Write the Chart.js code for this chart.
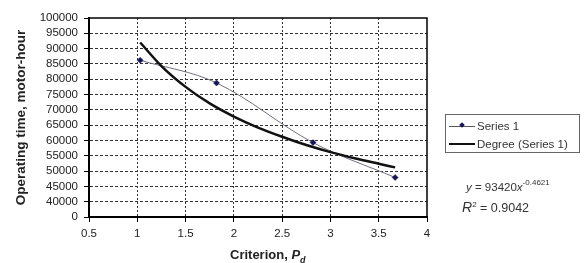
<!DOCTYPE html>
<html>
<head>
<meta charset="utf-8">
<script src="https://cdn.jsdelivr.net/npm/chart.js@4/dist/chart.umd.min.js"></script>
<style>
  html, body { margin: 0; padding: 0; background: #fff; }
  #wrap { position: relative; width: 585px; height: 263px; overflow: hidden; font-family: "Liberation Sans", Arial, sans-serif; }
  #chart { position: absolute; left: 0; top: 0; }
  #legend { position: absolute; left: 445px; top: 114px; width: 135px; height: 39px; border: 1px solid #666; box-sizing: border-box; color: #333; font-size: 11.5px; }
  .row { position: absolute; left: 0; height: 14px; line-height: 14px; }
  .sample { position: absolute; left: 3px; width: 26px; }
  .lbl { position: absolute; left: 31px; white-space: nowrap; }
  #xtitle { position: absolute; left: 230px; top: 247px; font-weight: bold; font-size: 13px; color: #222; white-space: nowrap; }
  #eq1 { position: absolute; left: 466px; top: 178px; font-size: 11.5px; color: #333; white-space: nowrap; }
  #eq2 { position: absolute; left: 462px; top: 199px; font-size: 12.5px; color: #333; white-space: nowrap; }
</style>
</head>
<body>
<div id="wrap">
  <canvas id="chart" width="585" height="263"></canvas>
  <div id="legend">
    <div class="row" style="top:4px">
      <div class="sample" style="top:6.5px;height:1px;background:#555"></div>
      <div class="sample" style="top:4px;left:14px;width:4px;height:4px;background:#14145a;transform:rotate(45deg)"></div>
      <div class="lbl" id="lbl1"></div>
    </div>
    <div class="row" style="top:22px">
      <div class="sample" style="top:6px;height:2px;background:#111"></div>
      <div class="lbl" id="lbl2"></div>
    </div>
  </div>
  <div id="eq1"><i>y</i> = 93420<i>x</i><sup style="font-size:8px;vertical-align:6px">-0.4621</sup></div>
  <div id="eq2"><i style="font-size:14px">R</i><sup style="font-size:8px;vertical-align:5px">2</sup> = 0.9042</div>
  <div id="xtitle">Criterion, <i>P</i><sub style="font-size:9px;font-style:italic">d</sub></div>
</div>
<script>
// ---- data ----
const seriesNames = ['Series 1', 'Degree (Series 1)'];
const seriesX = [1.03, 1.82, 2.82, 3.67];
const seriesY = [86200, 78800, 59300, 47900];
const trendX = [1.03, 1.25, 1.5, 1.75, 2.0, 2.25, 2.5, 2.75, 3.0, 3.25, 3.5, 3.67];
const trendY = [92000, 84300, 77500, 72100, 67800, 64200, 61200, 58500, 56200, 54200, 52400, 51200];
const xTickLabels = ['0.5', '1', '1.5', '2', '2.5', '3', '3.5', '4'];
const yTickLabels = ['0', '40000', '45000', '50000', '55000', '60000', '65000', '70000', '75000', '80000', '85000', '90000', '95000', '100000'];
const yAxisTitle = 'Operating time, motor-hour';

document.getElementById('lbl1').textContent = seriesNames[0];
document.getElementById('lbl2').textContent = seriesNames[1];

const X_MIN = 0.5, X_MAX = 4, Y_MIN = 35000, Y_MAX = 100000;

const frame = {
  id: 'frame',
  afterDraw(chart) {
    const {ctx, chartArea: a} = chart;
    ctx.save();
    ctx.strokeStyle = '#000';
    ctx.lineWidth = 1.5;
    ctx.beginPath();
    ctx.moveTo(a.left, a.top); ctx.lineTo(a.right, a.top); ctx.lineTo(a.right, a.bottom);
    ctx.stroke();
    ctx.restore();
  }
};

const gridColor = (min, max) => (c) => {
  const v = c.tick ? c.tick.value : null;
  if (v === null) return 'transparent';
  if (Math.abs(v - min) < 1e-9 || Math.abs(v - max) < 1e-9) return 'transparent';
  return '#333';
};

new Chart(document.getElementById('chart'), {
  type: 'scatter',
  data: {
    datasets: [
      {
        label: seriesNames[1],
        data: trendX.map((x, i) => ({x, y: trendY[i]})),
        showLine: true,
        borderColor: '#111',
        borderWidth: 2.5,
        pointRadius: 0,
        cubicInterpolationMode: 'monotone',
        fill: false
      },
      {
        label: seriesNames[0],
        data: seriesX.map((x, i) => ({x, y: seriesY[i]})),
        showLine: true,
        borderColor: '#6f7080',
        borderWidth: 1,
        tension: 0.35,
        pointStyle: 'rectRot',
        pointRadius: 3,
        pointBackgroundColor: '#14145a',
        pointBorderColor: '#14145a',
        pointBorderWidth: 0.5,
        fill: false
      }
    ]
  },
  options: {
    responsive: false,
    animation: false,
    events: [],
    layout: { padding: { top: 18, right: 158, left: 0, bottom: 0 } },
    plugins: { legend: { display: false }, tooltip: { enabled: false } },
    scales: {
      x: {
        type: 'linear', min: X_MIN, max: X_MAX,
        afterBuildTicks(s) { s.ticks = xTickLabels.map((t, i) => ({value: X_MIN + i * 0.5})); },
        afterFit(s) { s.height = 46; },
        ticks: {
          callback: (v, i) => xTickLabels[i],
          color: '#222', font: { family: 'Liberation Sans', size: 11.5 }, padding: 5, maxRotation: 0, autoSkip: false
        },
        grid: { color: gridColor(X_MIN, X_MAX), tickColor: '#000', tickLength: 5, tickWidth: 1 },
        border: { display: true, color: '#000', width: 2, dash: [2, 2] }
      },
      y: {
        type: 'linear', min: Y_MIN, max: Y_MAX,
        afterBuildTicks(s) { s.ticks = yTickLabels.map((t, i) => ({value: Y_MIN + i * 5000})); },
        afterFit(s) { s.width = 89; },
        ticks: {
          callback: (v, i) => yTickLabels[i],
          color: '#222', font: { family: 'Liberation Sans', size: 11.5 }, padding: 6, autoSkip: false
        },
        grid: { color: gridColor(Y_MIN, Y_MAX), tickColor: '#000', tickLength: 5, tickWidth: 1 },
        border: { display: true, color: '#000', width: 2, dash: [3, 2] },
        title: {
          display: true, text: yAxisTitle, color: '#222',
          font: { family: 'Liberation Sans', size: 13.5, weight: 'bold' },
          padding: { top: 13, bottom: 0 }
        }
      }
    }
  },
  plugins: [frame]
});
</script>
</body>
</html>
